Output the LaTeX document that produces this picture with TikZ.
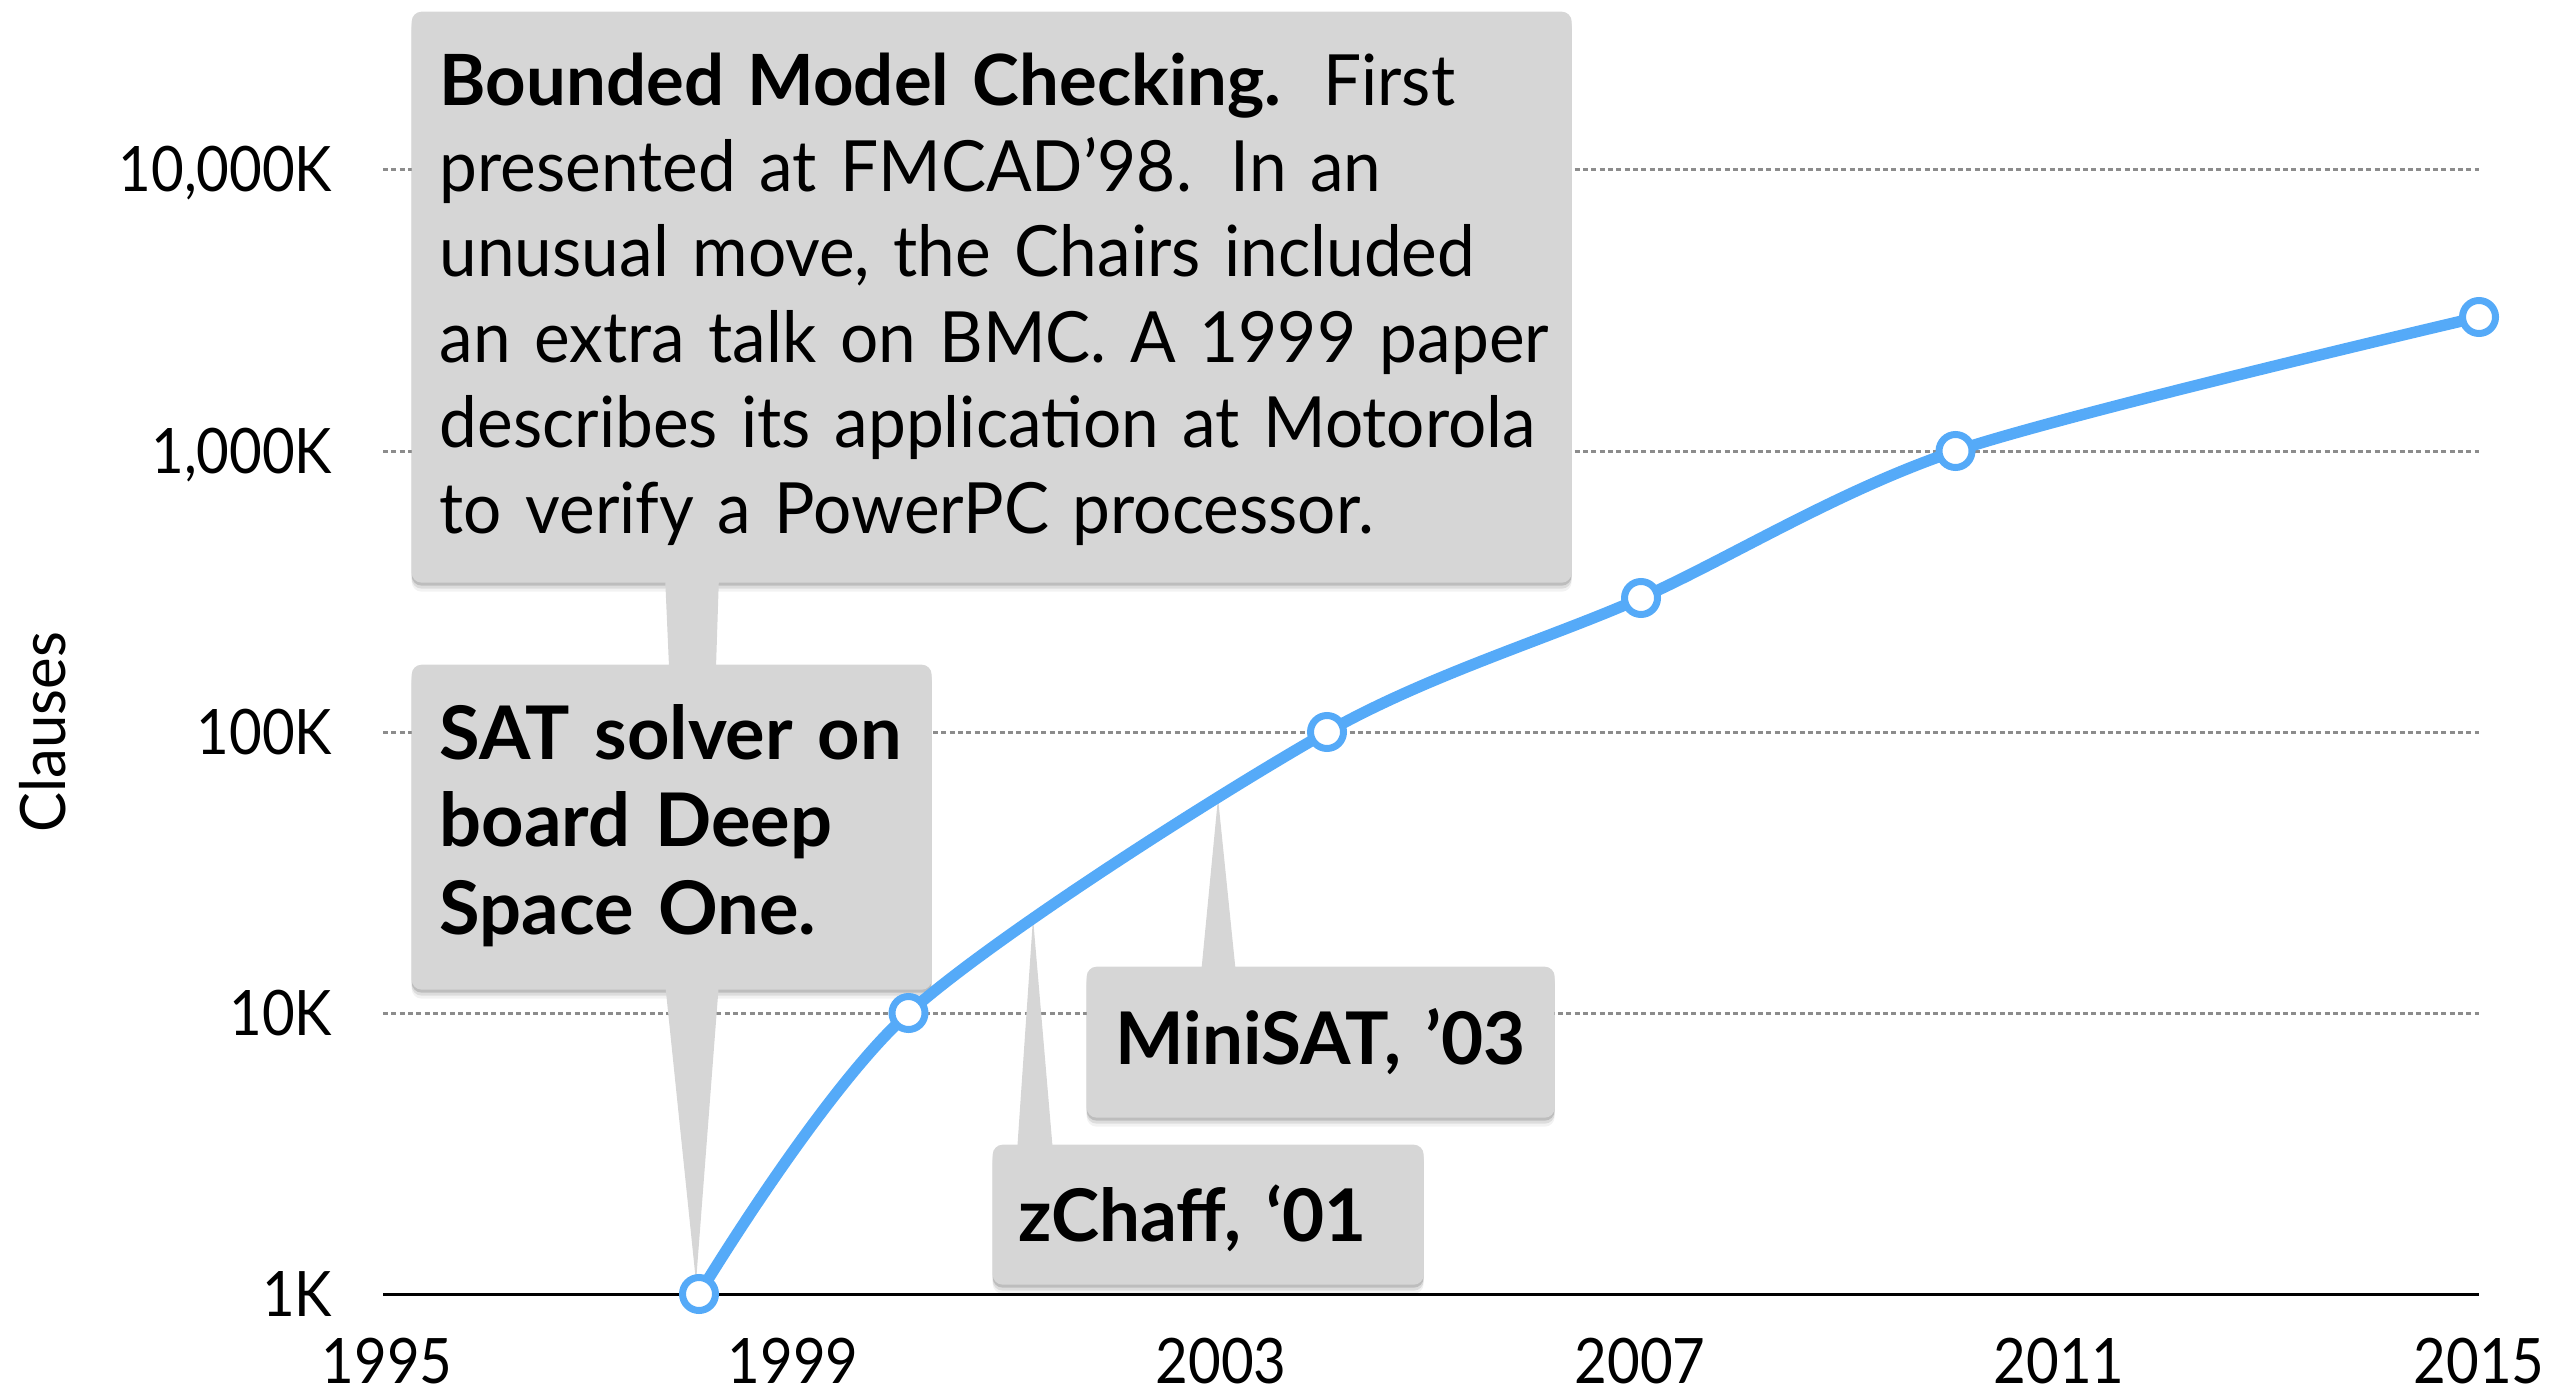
\documentclass[tikz,border=0pt]{standalone}
\usepackage{fontspec}
\setmainfont{Lato}[UprightFeatures={FakeStretch=0.955}]
\newfontfamily\tickfont{Lato}[FakeStretch=0.9]
\usetikzlibrary{calc}
\definecolor{boxgray}{RGB}{214,214,214}
\definecolor{curveblue}{RGB}{85,170,248}
\definecolor{gridgray}{RGB}{140,140,140}
\tikzset{
  callout/.style={fill=boxgray, rounded corners=3pt, inner sep=0pt, anchor=north west,
    preaction={fill=black, opacity=0.05, transform canvas={yshift=-2.7pt}},
    preaction={fill=black, opacity=0.09, transform canvas={yshift=-1.8pt}},
    preaction={fill=black, opacity=0.14, transform canvas={yshift=-0.9pt}}},
  tail/.style={fill=boxgray},
  gridline/.style={gridgray, line width=0.9pt, dash pattern=on 1.5pt off 1pt},
  axisline/.style={black, line width=0.9pt},
  curve/.style={curveblue, line width=3.4pt, line join=round, line cap=round},
  datapoint/.style={circle, draw=curveblue, fill=white, line width=2.1pt,
    minimum size=9.9pt, inner sep=0pt},
  ticklabel/.style={font=\tickfont\fontsize{18.8}{22}\selectfont, inner sep=0pt},
  calltext/.style={inner sep=0pt, anchor=base west, align=left, text width=380pt},
}
\begin{document}
\begin{tikzpicture}[x=0.3pt, y=-0.3pt]
\useasboundingbox (0,0) rectangle (2575,1394);

% dotted grid lines and the base axis
\foreach \yy in {170,451,732,1013}
  \draw[gridline] (383,\yy) -- (2479,\yy);
\draw[axisline] (383,1294) -- (2479,1294);

% value axis labels
\node[ticklabel, anchor=base east] (y4) at (333,192) {10,000K};
\node[ticklabel, anchor=base east] (y3) at (333,473) {1,000K};
\node[ticklabel, anchor=base east] (y2) at (333,754) {100K};
\node[ticklabel, anchor=base east] (y1) at (333,1035) {10K};
\node[ticklabel, anchor=base east] (y0) at (333,1316) {1K};
\node[inner sep=0pt, font=\fontsize{18.8}{22}\selectfont, rotate=90, anchor=base] (ytitle) at (65,732) {Clauses};

% year labels
\node[ticklabel, anchor=base] (x95) at (387,1383) {1995};
\node[ticklabel, anchor=base] (x99) at (793,1383) {1999};
\node[ticklabel, anchor=base] (x03) at (1221,1383) {2003};
\node[ticklabel, anchor=base] (x07) at (1640,1383) {2007};
\node[ticklabel, anchor=base] (x11) at (2059,1383) {2011};
\node[ticklabel, anchor=base] (x15) at (2479,1383) {2015};

% data points
\coordinate (p98) at (699,1294);
\coordinate (p00) at (908.5,1013);
\coordinate (p04) at (1327,732);
\coordinate (p07) at (1641,598);
\coordinate (p10) at (1955.5,451);
\coordinate (p15) at (2479,317);

% where the callout tails end
\coordinate (tipA) at (696,1282);
\coordinate (tipB) at (1033,918);
\coordinate (tipC) at (1218,798);

% Bounded Model Checking callout
\node[callout, minimum width=1160*0.3pt, minimum height=571*0.3pt] (bmcbox) at (411,11) {};
\fill[tail] ($(bmcbox.south west)+(254,-8)$) -- ($(bmcbox.south west)+(308,-8)$) -- (tipA) -- cycle;

% Deep Space One callout
\node[callout, minimum width=520*0.3pt, minimum height=325*0.3pt] (satbox) at (411,664) {};
\fill[tail] ($(satbox.south west)+(254,-8)$) -- ($(satbox.south west)+(308,-8)$) -- (tipA) -- cycle;

% MiniSAT callout
\node[callout, minimum width=468*0.3pt, minimum height=151*0.3pt] (minibox) at (1086,966) {};
\fill[tail] ($(minibox.north west)+(115,8)$) -- ($(minibox.north west)+(150,8)$) -- (tipC) -- cycle;

% zChaff callout
\node[callout, minimum width=431*0.3pt, minimum height=140*0.3pt] (zbox) at (992,1144) {};
\fill[tail] ($(zbox.north west)+(25,8)$) -- ($(zbox.north west)+(61,8)$) -- (tipB) -- cycle;

% callout texts
\node[calltext, font=\fontsize{21.2}{25.65}\selectfont] (bmctext) at (439,106)
  {\textbf{Bounded Model Checking.}\hspace{0.6em}First\\
   presented at FMCAD’98.\hspace{0.55em}In an\\
   unusual move, the Chairs included\\
   an extra talk on BMC. A 1999 paper\\
   describes its application at Motorola\\
   to verify a PowerPC processor.};
\node[calltext, font=\bfseries\fontsize{22.2}{26.25}\selectfont] (sattext) at (439,759)
  {SAT solver on\\ board Deep\\ Space One.};
\node[calltext, font=\bfseries\fontsize{21.8}{26}\selectfont] (minitext) at (1115,1064) {MiniSAT, ’03};
\node[calltext, font=\bfseries\fontsize{21.8}{26}\selectfont] (ztext) at (1018,1241) {zChaff, ‘01};

% growth curve with its markers
\draw[curve] plot[smooth, tension=0.5] coordinates {(p98) (p00) (p04) (p07) (p10) (p15)};
\foreach \p in {p98,p00,p04,p07,p10,p15}
  \node[datapoint] (m\p) at (\p) {};
\end{tikzpicture}
\end{document}
